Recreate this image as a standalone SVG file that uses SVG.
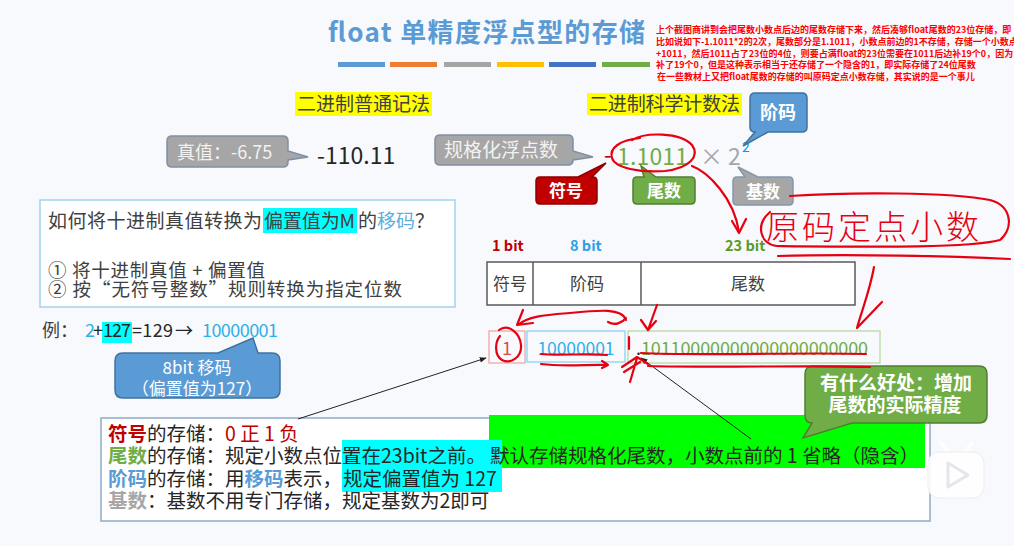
<svg xmlns="http://www.w3.org/2000/svg" width="1014" height="546" viewBox="0 0 1014 546">
<defs>
<style>
text{font-family:"Noto Sans CJK SC","Noto Sans",sans-serif;}
.note{font-size:9px;font-weight:bold;fill:#ff0000;}
.hl{font-size:19px;fill:#404040;}
.wb{fill:#ffffff;font-weight:bold;text-anchor:middle;}
.red{fill:none;stroke:#e60012;stroke-width:2.2;stroke-linecap:round;stroke-linejoin:round;}
.blk{fill:none;stroke:#222;stroke-width:1;}
.body{font-size:19.5px;fill:#262626;}
</style>
<marker id="ah" viewBox="0 0 10 10" refX="9" refY="5" markerWidth="7" markerHeight="7" orient="auto">
<path d="M0 1 L10 5 L0 9 Z" fill="#222"/>
</marker>
</defs>
<rect x="0" y="0" width="1014" height="546" fill="#f8f9fc"/>

<g id="title">
<text x="328" y="42" font-size="26" font-weight="bold" fill="#5b9bd5" textLength="317" lengthAdjust="spacing">float 单精度浮点型的存储</text>
<rect x="338" y="62" width="47" height="5" fill="#5b9bd5"/>
<rect x="390" y="62" width="47" height="5" fill="#ed7d31"/>
<rect x="444" y="62" width="47" height="5" fill="#a5a5a5"/>
<rect x="497" y="62" width="47" height="5" fill="#ffc000"/>
<rect x="549" y="62" width="47" height="5" fill="#4472c4"/>
<rect x="602" y="62" width="48" height="5" fill="#70ad47"/>
</g>

<g id="note">
<text class="note" x="656" y="33">上个截图商讲到会把尾数小数点后边的尾数存储下来，然后凑够float尾数的23位存储，即</text>
<text class="note" x="656" y="45">比如说如下-1.1011*2的2次，尾数部分是1.1011，小数点前边的1不存储，存储一个小数点</text>
<text class="note" x="656" y="57">+1011，然后1011占了23位的4位，则要占满float的23位需要在1011后边补19个0，因为</text>
<text class="note" x="656" y="68">补了19个0，但是这种表示相当于还存储了一个隐含的1，即实际存储了24位尾数</text>
<text class="note" x="657" y="80">在一些教材上又把float尾数的存储的叫原码定点小数存储，其实说的是一个事儿</text>
</g>

<g id="plain-label">
<rect x="295" y="92" width="137" height="24" fill="#ffff00"/>
<text class="hl" x="297" y="111" textLength="133" lengthAdjust="spacing">二进制普通记法</text>
</g>
<g id="sci-label">
<rect x="587" y="93" width="155" height="22" fill="#ffff00"/>
<text class="hl" x="589" y="111" textLength="151" lengthAdjust="spacing">二进制科学计数法</text>
</g>

<g id="true-value">
<path d="M172 136 H283 Q288 136 288 141 V151 L308 157 L288 160 V162 Q288 167 283 167 H172 Q167 167 167 162 V141 Q167 136 172 136 Z" fill="#a6a6a6" stroke="#7f8fa6" stroke-width="1.5"/>
<text x="177" y="159" font-size="18" fill="#f2f2f2">真值：-6.75</text>
</g>
<g id="binary-value">
<text x="317" y="164" font-size="23" fill="#262626">-110.11</text>
</g>

<g id="normalized">
<path d="M440 135 H568 Q573 135 573 140 V151 L593 157 L573 160 Q573 165 568 165 H440 Q435 165 435 160 V140 Q435 135 440 135 Z" fill="#a6a6a6" stroke="#7f8fa6" stroke-width="1.5"/>
<text x="444" y="157" font-size="19" fill="#f2f2f2">规格化浮点数</text>
</g>

<g id="sci-value">
<text x="604" y="163" font-size="23" fill="#c00000">-</text>
<text x="617" y="165" font-size="23" fill="#70ad47" textLength="71" lengthAdjust="spacing">1.1011</text>
<text x="700" y="165" font-size="23" fill="#a6a6a6">×</text>
<text x="728" y="165" font-size="23" fill="#a6a6a6">2</text>
<text x="742" y="152" font-size="14" fill="#00a0e8">2</text>
</g>

<g id="exp-callout">
<path d="M755 93 H802 Q807 93 807 98 V127 Q807 132 802 132 H768 L743 146 L755 132 Q750 132 750 127 V98 Q750 93 755 93 Z" fill="#5b9bd5" stroke="#41719c" stroke-width="1.5"/>
<text class="wb" x="778" y="119" font-size="18">阶码</text>
</g>
<g id="sign-callout">
<path d="M540 177 H578 L606 163 L592 177 H593 Q597 177 597 181 V200 Q597 204 593 204 H540 Q536 204 536 200 V181 Q536 177 540 177 Z" fill="#c00000" stroke="#8b0000" stroke-width="1.5"/>
<text class="wb" x="566" y="197" font-size="17">符号</text>
</g>
<g id="mantissa-callout">
<path d="M637 177 H644 L641 166 L656 177 H691 Q695 177 695 181 V200 Q695 204 691 204 H637 Q633 204 633 200 V181 Q633 177 637 177 Z" fill="#70ad47" stroke="#507e32" stroke-width="1.5"/>
<text class="wb" x="664" y="197" font-size="17">尾数</text>
</g>
<g id="base-callout">
<path d="M737 177 H745 L738 167 L758 177 H789 Q793 177 793 181 V201 Q793 205 789 205 H737 Q733 205 733 201 V181 Q733 177 737 177 Z" fill="#a6a6a6" stroke="#8497b0" stroke-width="1.5"/>
<text class="wb" x="763" y="198" font-size="17">基数</text>
</g>

<g id="question">
<rect x="40" y="200" width="415" height="107" fill="#ffffff" stroke="#a3d3ea" stroke-width="1.5"/>
<rect x="263" y="208" width="94" height="25" fill="#00ffff"/>
<text x="48" y="228" font-size="19" fill="#404040" textLength="214" lengthAdjust="spacing">如何将十进制真值转换为</text>
<text x="264" y="228" font-size="19" fill="#404040" textLength="91" lengthAdjust="spacing">偏置值为M</text>
<text x="358" y="228" font-size="19" fill="#404040">的<tspan fill="#5bb0e0">移码</tspan>？</text>
<text x="48" y="277" font-size="18.5" fill="#404040" textLength="217" lengthAdjust="spacing">① 将十进制真值 + 偏置值</text>
<text x="48" y="296" font-size="18.5" fill="#404040" textLength="354" lengthAdjust="spacing">② 按“无符号整数”规则转换为指定位数</text>
</g>

<g id="example">
<rect x="102" y="322" width="30" height="21" fill="#00ffff"/>
<text x="42" y="337" font-size="18" fill="#404040">例：</text>
<text x="85" y="337" font-size="18" fill="#2eb0e8">2</text>
<text x="93" y="337" font-size="18" fill="#262626">+</text>
<text x="103" y="337" font-size="18" fill="#262626" textLength="28" lengthAdjust="spacing">127</text>
<text x="132" y="337" font-size="18" fill="#262626" textLength="41" lengthAdjust="spacing">=129</text>
<text x="175" y="337" font-size="18" fill="#262626">→</text>
<text x="202" y="337" font-size="18" fill="#2eb0e8" textLength="76" lengthAdjust="spacing">10000001</text>
</g>

<g id="bias-callout">
<path d="M123 353 H218 L253 338 L258 353 H272 Q280 353 280 361 V390 Q280 398 272 398 H123 Q115 398 115 390 V361 Q115 353 123 353 Z" fill="#5b9bd5" stroke="#41719c" stroke-width="1.5"/>
<text x="197" y="374" font-size="17" fill="#ffffff" text-anchor="middle">8bit 移码</text>
<text x="197" y="395" font-size="17" fill="#ffffff" text-anchor="middle">（偏置值为127）</text>
</g>

<g id="bit-labels">
<text x="492" y="251" font-size="14.5" font-weight="bold" fill="#c00000">1 bit</text>
<text x="570" y="251" font-size="14.5" font-weight="bold" fill="#2e9ee6">8 bit</text>
<text x="725" y="251" font-size="14.5" font-weight="bold" fill="#5a9a28">23 bit</text>
</g>

<g id="format-table">
<rect x="487" y="262" width="368" height="43" fill="#ffffff" stroke="#595959" stroke-width="1.5"/>
<line x1="533" y1="262" x2="533" y2="305" stroke="#595959" stroke-width="1.5"/>
<line x1="641" y1="262" x2="641" y2="305" stroke="#595959" stroke-width="1.5"/>
<text x="510" y="290" font-size="17" fill="#404040" text-anchor="middle">符号</text>
<text x="587" y="290" font-size="17" fill="#404040" text-anchor="middle">阶码</text>
<text x="748" y="290" font-size="17" fill="#404040" text-anchor="middle">尾数</text>
</g>

<g id="sign-bit">
<rect x="489" y="331" width="36" height="32" fill="none" stroke="#f0a0a0" stroke-width="1.2"/>
<text x="507" y="355" font-size="18" fill="#e04848" text-anchor="middle">1</text>
</g>
<g id="exp-bits">
<rect x="527" y="331" width="98" height="31" fill="none" stroke="#7fd0f0" stroke-width="1.2"/>
<text x="576" y="355" font-size="17.5" fill="#2eb0e8" text-anchor="middle" textLength="77" lengthAdjust="spacing">10000001</text>
</g>
<g id="mantissa-bits">
<rect x="628" y="331" width="252" height="32" fill="none" stroke="#b5d59a" stroke-width="1.2"/>
<text x="636" y="355" font-size="18" fill="#262626">.</text>
<text x="641" y="355" font-size="18" fill="#70ad47" textLength="227" lengthAdjust="spacing">10110000000000000000000</text>
</g>

<g id="summary">
<rect x="101" y="418" width="829" height="103" fill="#ffffff" stroke="#8ea9c8" stroke-width="1.5"/>
<rect x="489" y="415" width="436" height="53" fill="#00ff00"/>
<rect x="342" y="440" width="160" height="52" fill="#00ffff"/>
<text class="body" x="108" y="441"><tspan fill="#c00000" font-weight="bold">符号</tspan>的存储：<tspan x="225" fill="#c00000">0 正 1 负</tspan></text>
<text class="body" x="108" y="463"><tspan fill="#70ad47" font-weight="bold">尾数</tspan>的存储：规定小数点位置在23bit之前。<tspan x="490">默认存储规格化尾数，小数点前的 1 省略（隐含）</tspan></text>
<text class="body" x="108" y="486"><tspan fill="#5b9bd5" font-weight="bold">阶码</tspan>的存储：用<tspan fill="#5b9bd5" font-weight="bold">移码</tspan>表示，<tspan x="343">规定偏置值为 127</tspan></text>
<text class="body" x="108" y="508"><tspan fill="#a6a6a6" font-weight="bold">基数</tspan>：基数不用专门存储，规定基数为2即可</text>
</g>

<g id="benefit-callout">
<path d="M813 366 H979 Q987 366 987 374 V415 Q987 423 979 423 H852 L803 438 L812 423 Q805 423 805 415 V374 Q805 366 813 366 Z" fill="#70ad47" stroke="#507e32" stroke-width="1.5"/>
<text class="wb" x="896" y="390" font-size="19">有什么好处：增加</text>
<text class="wb" x="895" y="412" font-size="19">尾数的实际精度</text>
</g>

<g id="connectors">
<line class="blk" x1="298" y1="419" x2="486" y2="358" marker-end="url(#ah)"/>
<line class="blk" x1="751" y1="439" x2="641" y2="358" marker-end="url(#ah)"/>
</g>

<g id="ink">
<path class="red" d="M632 140 C645 132 680 132 692 145 C700 156 690 168 665 171 C640 173 615 168 612 158 C609 148 620 140 640 138"/>
<path class="red" d="M692 166 C708 172 734 198 739 232"/>
<path class="red" d="M732 221 L739 233 L746 219"/>
<text x="766" y="239" font-size="33" fill="#e60012" font-weight="300" letter-spacing="3">原码定点小数</text>
<path class="red" d="M790 196 C850 192 950 192 990 200 C1012 206 1014 228 1000 240 C970 248 880 247 777 246 C760 244 755 225 770 212"/>
<path class="red" d="M778 256 C850 254 950 256 1010 259"/>
<path class="red" d="M874 267 C870 290 862 310 857 328 M882 302 L857 328"/>
<path class="red" d="M657 305 L648 330 M641 320 L648 330 L656 321"/>
<path class="red" d="M626 320 C622 308 600 310 570 313 C545 315 528 316 518 325 M523 310 L517 325 L533 323 M608 322 C615 326 622 323 626 318"/>
<path class="red" d="M499 330 C508 323 520 333 521 345 C522 358 510 364 502 360 C494 355 495 342 500 336"/>
<path class="red" d="M541 354 C560 356 585 353 607 355"/>
<path class="red" d="M541 364 C565 367 590 364 608 365 M602 361 L608 365 L602 368"/>
<path class="red" d="M629 337 L629 349"/>
<path class="red" d="M630 382 L637 358 M622 367 L637 357 L648 364 M624 372 L640 362"/>
<path class="red" d="M641 353 C700 356 800 352 866 354"/>
<path class="red" d="M648 366 C720 368 800 365 870 367"/>
</g>

<g id="watermark" opacity="0.9">
<line x1="941" y1="443" x2="948" y2="452" stroke="#ffffff" stroke-width="4" stroke-linecap="round"/>
<line x1="972" y1="443" x2="965" y2="452" stroke="#ffffff" stroke-width="4" stroke-linecap="round"/>
<rect x="928" y="452" width="56" height="46" rx="11" fill="#ffffff" stroke="#ececf2"/>
<path d="M948 463 L948 487 L968 475 Z" fill="none" stroke="#e4e4ea" stroke-width="3" stroke-linejoin="round"/>
</g>
</svg>
